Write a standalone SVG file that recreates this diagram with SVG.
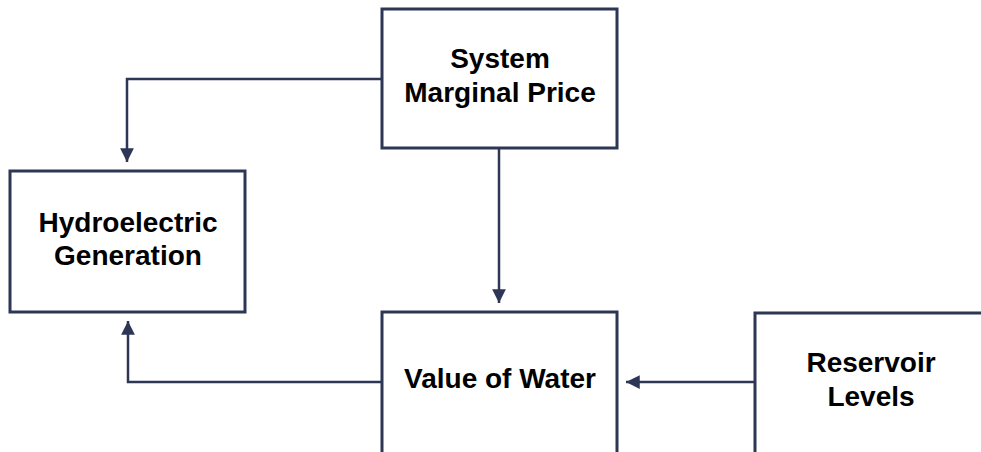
<svg xmlns="http://www.w3.org/2000/svg" width="981" height="452" viewBox="0 0 981 452">
  <style>
    .box { fill: #ffffff; stroke: #2d3654; stroke-width: 3; }
    .lbl { font-family: "Liberation Sans", Arial, sans-serif; font-weight: bold; font-size: 28px; fill: #000000; text-anchor: middle; }
    .wire { fill: none; stroke: #2d3654; stroke-width: 2.5; }
  </style>
  <defs>
    <marker id="arrow" viewBox="0 0 10 10" refX="10" refY="5" markerWidth="5.5" markerHeight="5.5" markerUnits="strokeWidth" orient="auto">
      <path d="M0,0 L10,5 L0,10 z" fill="#2d3654"/>
    </marker>
  </defs>
  <rect width="981" height="452" fill="#ffffff"/>

  <g id="connectors">
    <path class="wire" d="M382,79 H127 V162" marker-end="url(#arrow)"/>
    <path class="wire" d="M499,148 V303" marker-end="url(#arrow)"/>
    <path class="wire" d="M382,382 H128 V321" marker-end="url(#arrow)"/>
    <path class="wire" d="M755,382 H626" marker-end="url(#arrow)"/>
  </g>

  <g id="system-marginal-price">
    <rect class="box" x="382" y="9" width="235" height="139"/>
    <text class="lbl" x="500" y="68">System</text>
    <text class="lbl" x="500" y="102">Marginal Price</text>
  </g>

  <g id="hydroelectric-generation">
    <rect class="box" x="10" y="171" width="235" height="141"/>
    <text class="lbl" x="128" y="232">Hydroelectric</text>
    <text class="lbl" x="128" y="265">Generation</text>
  </g>

  <g id="value-of-water">
    <rect class="box" x="382" y="312" width="235" height="150"/>
    <text class="lbl" x="500" y="388">Value of Water</text>
  </g>

  <g id="reservoir-levels">
    <rect class="box" x="755" y="313" width="240" height="150"/>
    <text class="lbl" x="871" y="372">Reservoir</text>
    <text class="lbl" x="871" y="406">Levels</text>
  </g>
</svg>
